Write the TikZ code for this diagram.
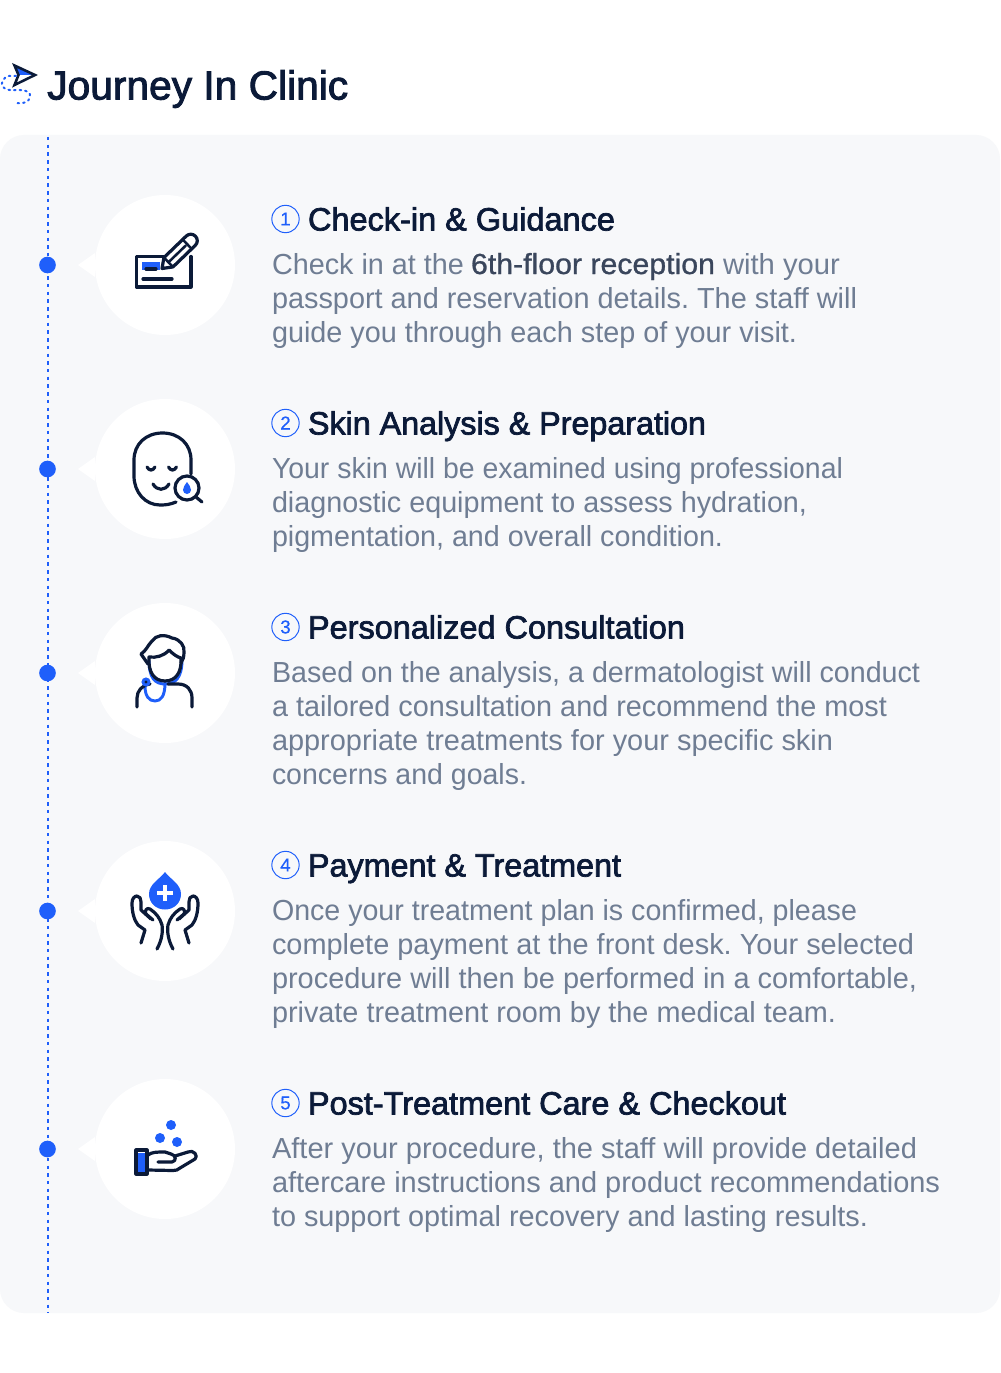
\documentclass[tikz,border=0pt]{standalone}
\usepackage{graphicx}
\usepackage{fontspec}
\setmainfont{Liberation Sans}
\newfontfamily\semib[FakeBold=2.2]{Liberation Sans}
\newfontfamily\medf[FakeBold=0.9]{Liberation Sans}
\newfontfamily\numf[FakeBold=0.4]{Liberation Sans}
\definecolor{panelc}{HTML}{F7F8FA}
\definecolor{inkc}{HTML}{0B1A38}
\definecolor{bluec}{HTML}{1F5FFA}
\definecolor{greyc}{HTML}{6F7D93}
\definecolor{medc}{HTML}{3A465C}
\newcounter{tn}
% name-free helper: x0, x1, baseline, font, text
\newcommand{\fittext}[5]{%
  \stepcounter{tn}%
  \pgfmathsetlengthmacro\tw{(#2-#1)*0.75pt}%
  \node[anchor=base west,inner sep=0pt,outer sep=0pt] (text\arabic{tn}) at (#1,#3) {\resizebox{\tw}{\height}{\frenchspacing #4\strut #5}};%
}
\newcommand{\bodyl}[3]{\fittext{272}{#1}{#2}{\bodyf}{#3}}
\newcommand{\bodyf}{\fontsize{21.75}{26}\selectfont\color{greyc}}
\newcommand{\titlef}{\fontsize{24.2}{28}\selectfont\semib\color{inkc}}
\newcommand{\titlel}[5]{% circle name, cy, digit, xend+baseline, text
  \node[numc] (#1) at (285.5,#2) {#3};
  \fittext{308}{#4}{#2+11.5}{\titlef}{#5}}
\tikzset{
  numc/.style={circle,draw=bluec,line width=0.75pt,minimum size=20.5pt,inner sep=0pt,text=bluec,font=\fontsize{14}{14}\selectfont\numf},
  stepdot/.style={circle,fill=bluec,draw=none,minimum size=12.5pt,inner sep=0pt},
  bubble/.style={circle,fill=white,draw=none,minimum size=105pt,inner sep=0pt},
  timeline/.style={bluec,line width=1.45pt,dash pattern=on 2.6pt off 3.2pt},
  ink/.style={inkc,line width=2.4pt,line cap=round,line join=round},
  bluestroke/.style={bluec,line width=2.2pt,line cap=round,line join=round},
}
\begin{document}
\begin{tikzpicture}[x=0.75pt,y=-0.75pt]
\useasboundingbox (0,0) rectangle (1000,1373);
\fill[white] (0,0) rectangle (1000,1373);
\fill[panelc,rounded corners=18pt] (0,135) rectangle (1000,1313);
% header
\coordinate (tlstart) at (47.8,137);
\coordinate (tlend) at (47.8,1313);
\draw[timeline] (tlstart) -- (tlend);
\fill[bluec] (16,67) -- (35,75) -- (18,75) -- cycle;
\draw[inkc,line width=1.9pt,line join=miter] (14.5,65.5) -- (35,75) -- (14.5,85) -- (18.5,75) -- cycle;
\draw[bluec,line width=1.5pt,dash pattern=on 1.2pt off 3pt,line cap=round]
  (16,76) -- (9,76) .. controls (3,77) and (0,84) .. (3,87) .. controls (6,91) and (12,90) .. (20,90)
  .. controls (27,90) and (31,93) .. (30,97) .. controls (29,102) and (24,104) .. (14,103);
\node[anchor=base west,inner sep=0pt] (head) at (47,99.5) {\resizebox{225.75pt}{\height}{\fontsize{30.4}{34}\selectfont\semib\color{inkc} Journey In Clinic}};
% steps: bubbles, dots
\foreach \n/\y in {a/265,b/469,c/673,d/911,e/1149}{
  \fill[white] (95,\y-12) -- (78,\y) -- (95,\y+12) -- cycle;
  \node[bubble] (bub\n) at (165,\y) {};
  \node[stepdot] (dot\n) at (47.5,\y) {};
}
% --- icon 1
\fill[bluec] (142,262) rectangle (160,270);
\draw[ink] (166,256.5) -- (136.5,256.5) -- (136.5,287) -- (191,287) -- (191,256.5);
\draw[ink] (146,269) -- (156,269);
\draw[ink] (143,279) -- (172,279);
\begin{scope}[shift={(162,268.5)},rotate=44]
  \fill[white] (0,0) -- (9,-6) -- (42,-6) -- (47,-3) -- (47,3) -- (42,6) -- (9,6) -- cycle;
  \draw[ink] (0,0) -- (9,-6.5) -- (40,-6.5) arc (-90:90:6.5) -- (9,6.5) -- cycle;
  \draw[ink,line width=1.9pt] (9,0) -- (33,0);
  \draw[ink,line width=1.9pt] (9,-6.5) -- (9,6.5);
  \draw[ink,line width=1.9pt] (35,-6.5) -- (35,6.5);
\end{scope}
% --- icon 2
\draw[ink] (176,502) .. controls (170,504.5) and (166,505) .. (160,505)
  .. controls (145,505) and (134,492) .. (134,476) -- (134,460)
  .. controls (134,444) and (146,433) .. (162.5,433)
  .. controls (179,433) and (191,444) .. (191,460) -- (191,474);
\draw[ink] (147,467) .. controls (149,471) and (153,471) .. (155,467);
\draw[ink] (168.5,467) .. controls (170.5,471) and (174.5,471) .. (176.5,467);
\draw[ink] (153,484) .. controls (157,491) and (165,491) .. (169,484);
\draw[ink,fill=white] (187,488) circle (12);
\draw[ink] (196,497) -- (202,502);
\fill[bluec] (187,482) .. controls (189,485) and (191,487) .. (191,490) arc (0:180:4) .. controls (183,487) and (185,485) .. (187,482) -- cycle;
% --- icon 3
\draw[bluestroke] (149,660) .. controls (149,678) and (155,684) .. (165,684) .. controls (175,684) and (182,678) .. (182,660);
\draw[bluestroke] (145,686) .. controls (145,696) and (149,701) .. (155,701) .. controls (161,701) and (165,696) .. (165,683);
\draw[ink] (149,657) .. controls (156,658) and (164,656) .. (169,650) .. controls (173,654) and (177,657) .. (181,658)
  .. controls (182,672) and (176,681) .. (165,681) .. controls (154,681) and (148,672) .. (149,657) -- cycle;
\draw[ink] (148,664) -- (141,654) .. controls (146,651) and (148,645) .. (152,641) .. controls (156,635) and (164,634) .. (172,638)
  .. controls (180,639) and (185,646) .. (184,652) .. controls (184,657) and (183,660) .. (181,663);
\draw[ink] (137,707) -- (137,698) .. controls (137,691) and (142,685) .. (150,684);
\draw[ink] (168,684) -- (178,684) .. controls (187,684) and (192,690) .. (192,698) -- (192,707);
\fill[bluec] (146,682) circle (4.6);
\fill[inkc] (146,682) circle (1.7);
% --- icon 4
\fill[bluec] (165,872) .. controls (170,879) and (181,884) .. (181,894)
  .. controls (181,903) and (174,909.5) .. (165,909.5)
  .. controls (156,909.5) and (149,903) .. (149,894)
  .. controls (149,884) and (160,879) .. (165,872) -- cycle;
\draw[white,line width=3.4pt] (157,893) -- (173,893) (165,885) -- (165,901);
\foreach \s in {1,-1}{
\begin{scope}[shift={(165,0)},xscale=\s]
  \draw[ink] (-24,943) -- (-20,930) -- (-27,925) .. controls (-31,920) and (-33,912) .. (-33,903)
     .. controls (-33,898) and (-30,896) .. (-28,896) .. controls (-25,896) and (-24,899) .. (-24,902)
     -- (-24,910) -- (-14,919);
  \draw[ink] (-12,920) -- (-19,914) .. controls (-21,911) and (-18,907) .. (-15,909) .. controls (-9,913) and (-5,918) .. (-3,925)
     .. controls (-2,931) and (-3,940) .. (-8,949);
\end{scope}}
% --- icon 5
\fill[bluec] (171,1125) circle (5);
\fill[bluec] (160,1138) circle (5);
\fill[bluec] (177,1142) circle (5);
\fill[bluec] (136,1153) rectangle (147,1174);
\draw[ink] (136,1150) rectangle (147,1174);
\draw[ink] (148,1155) .. controls (152,1152) and (156,1152) .. (165,1152) -- (171,1154)
  .. controls (176,1155) and (177,1161) .. (172,1162) -- (158,1162);
\draw[ink] (175,1156) -- (188,1152) .. controls (193,1149) and (199,1156) .. (195,1159) -- (180,1168)
  .. controls (178,1170) and (176,1170.5) .. (173,1170.5) -- (148,1170);
% --- text
\titlel{numa}{219}{1}{615}{Check-in \& Guidance}
\fittext{272}{464}{274}{\bodyf}{Check in at the}
\fittext{471}{715}{274}{\fontsize{21.75}{26}\selectfont\medf\color{medc}}{6th-floor reception}
\fittext{723}{840}{274}{\bodyf}{with your}
\bodyl{857}{308}{passport and reservation details. The staff will}
\bodyl{797}{342}{guide you through each step of your visit.}
\titlel{numb}{423}{2}{706}{Skin Analysis \& Preparation}
\bodyl{843}{478}{Your skin will be examined using professional}
\bodyl{807}{512}{diagnostic equipment to assess hydration,}
\bodyl{723}{546}{pigmentation, and overall condition.}
\titlel{numc}{627}{3}{685}{Personalized Consultation}
\bodyl{920}{682}{Based on the analysis, a dermatologist will conduct}
\bodyl{887}{716}{a tailored consultation and recommend the most}
\bodyl{833}{750}{appropriate treatments for your specific skin}
\bodyl{527}{784}{concerns and goals.}
\titlel{numd}{865}{4}{621}{Payment \& Treatment}
\bodyl{857}{920}{Once your treatment plan is confirmed, please}
\bodyl{914}{954}{complete payment at the front desk. Your selected}
\bodyl{917}{988}{procedure will then be performed in a comfortable,}
\bodyl{836}{1022}{private treatment room by the medical team.}
\titlel{nume}{1103}{5}{786}{Post-Treatment Care \& Checkout}
\bodyl{917}{1158}{After your procedure, the staff will provide detailed}
\bodyl{940}{1192}{aftercare instructions and product recommendations}
\bodyl{868}{1226}{to support optimal recovery and lasting results.}
\end{tikzpicture}
\end{document}
